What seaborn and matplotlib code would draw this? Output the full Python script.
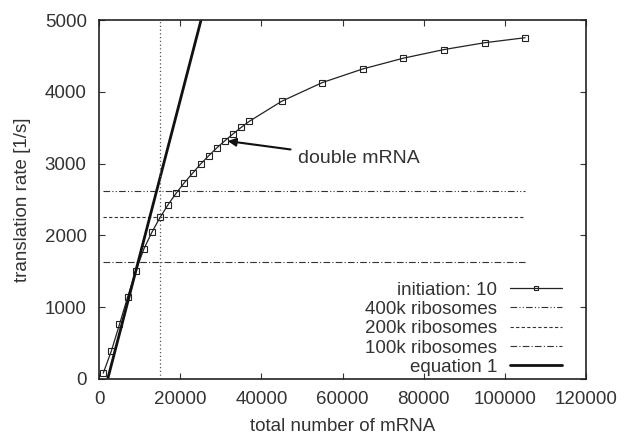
import numpy as np
import pandas as pd
import matplotlib
matplotlib.use('Agg')
import matplotlib.pyplot as plt
import seaborn as sns

# Data
mrna = [1000, 3000, 5000, 7000, 9000, 11000, 13000, 15000, 17000, 19000,
        21000, 23000, 25000, 27000, 29000, 31000, 33000, 35000, 37000,
        45000, 55000, 65000, 75000, 85000, 95000, 105000]
rate = [80, 390, 760, 1140, 1500, 1810, 2045, 2250, 2430, 2590,
        2735, 2865, 2995, 3110, 3220, 3320, 3415, 3505, 3590,
        3870, 4130, 4320, 4470, 4590, 4685, 4755]

ribosome_labels = ['400k ribosomes', '200k ribosomes', '100k ribosomes']
ribosome_limits = [2615, 2260, 1625]
limit_span = [1000, 105000]

eq1_x = [2100, 25100]
eq1_y = [0, 5000]

double_mrna = 15000
arrow_target = (31000, 3320)

FS = 13.5

sns.set_style('ticks')
plt.rcParams['font.family'] = ['Liberation Sans', 'DejaVu Sans']
plt.rcParams['font.size'] = FS
plt.rcParams['text.color'] = '#333333'
plt.rcParams['axes.labelcolor'] = '#333333'
plt.rcParams['xtick.color'] = '#333333'
plt.rcParams['ytick.color'] = '#333333'

fig, ax = plt.subplots(figsize=(6.24, 4.38), dpi=100)

df = pd.DataFrame({'mrna': mrna, 'rate': rate})
sns.lineplot(data=df, x='mrna', y='rate', ax=ax, color='#222222', lw=0.9,
             marker='s', markersize=4, markerfacecolor='none',
             markeredgecolor='#222222', markeredgewidth=0.8,
             label='initiation: 10')

styles = [(0, (6, 2, 1, 2, 1, 2)), (0, (3, 2)), (0, (6, 2, 1, 2))]
for lab, lim, ls in zip(ribosome_labels, ribosome_limits, styles):
    ax.plot(limit_span, [lim, lim], color='#333333', lw=0.8, linestyle=ls, label=lab)

ax.plot(eq1_x, eq1_y, color='#111111', lw=2, label='equation 1')

ax.axvline(double_mrna, color='#555555', lw=0.9, linestyle=(0, (1, 2)))

ax.annotate('double mRNA', xy=arrow_target, xytext=(49000, 3070),
            fontsize=14, va='center', ha='left',
            arrowprops=dict(arrowstyle='-|>', color='#111111', lw=1.5,
                            shrinkA=3, shrinkB=2, mutation_scale=12))

ax.set_xlim(0, 120000)
ax.set_ylim(0, 5000)
ax.set_xticks(np.arange(0, 120001, 20000))
ax.set_yticks(np.arange(0, 5001, 1000))
ax.tick_params(direction='in', top=True, right=True, length=4, width=0.8,
               labelsize=FS)
ax.tick_params(axis='x', pad=9)
ax.tick_params(axis='y', pad=9)
for s in ax.spines.values():
    s.set_linewidth(1.2)
    s.set_color('#222222')

ax.set_xlabel('total number of mRNA', fontsize=FS, labelpad=7)
ax.set_ylabel('translation rate [1/s]', fontsize=FS, labelpad=10)

leg = ax.legend(loc='lower right', bbox_to_anchor=(0.951, 0.008),
                frameon=False, markerfirst=False, fontsize=FS,
                handlelength=2.8, handletextpad=0.65, labelspacing=0.12,
                borderaxespad=0, borderpad=0)
for h in leg.legend_handles:
    h.set_markersize(3.5)

fig.subplots_adjust(left=0.159, right=0.939, top=0.954, bottom=0.135)
fig.savefig('out.png', dpi=100)
